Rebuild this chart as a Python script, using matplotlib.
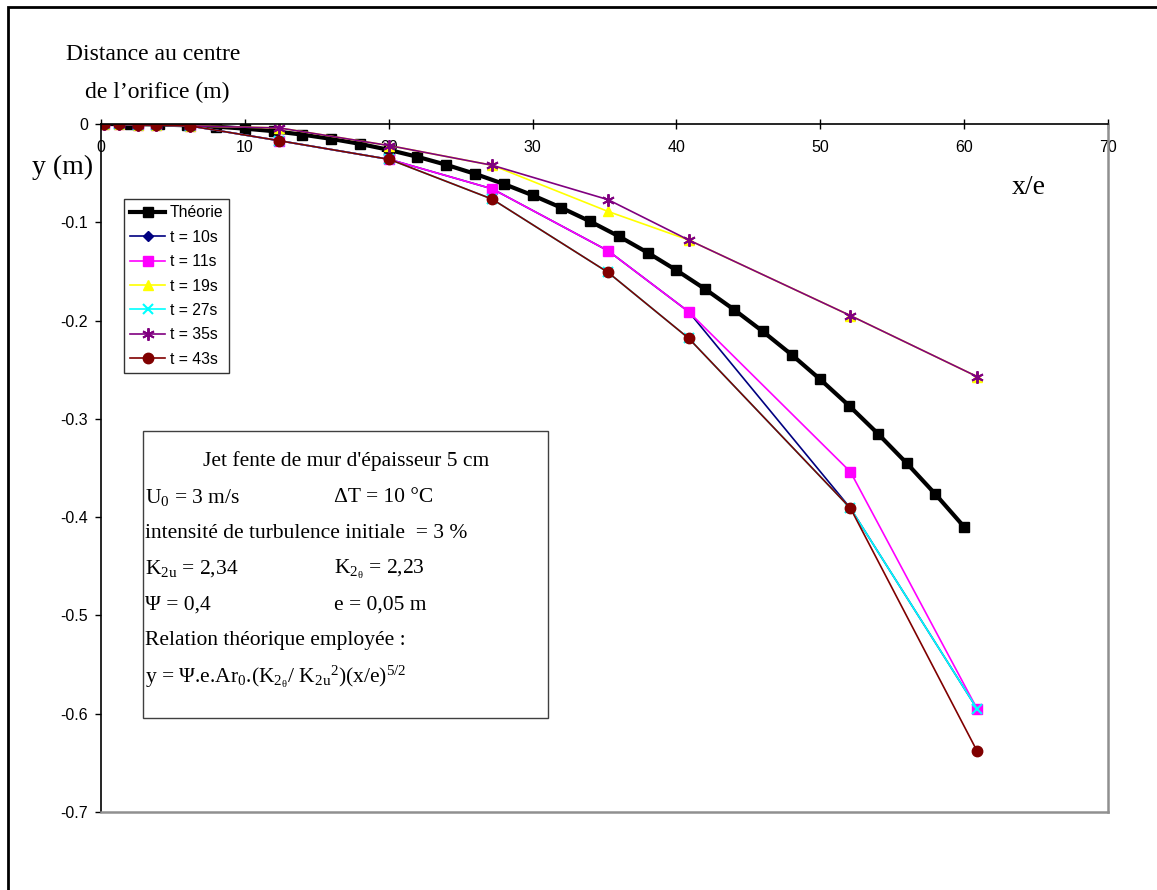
import matplotlib
matplotlib.use('Agg')
import matplotlib.pyplot as plt
from matplotlib.patches import Rectangle

plt.rcParams['font.family'] = ['Liberation Sans', 'DejaVu Sans']
plt.rcParams['mathtext.fontset'] = 'custom'
plt.rcParams['mathtext.rm'] = 'Liberation Serif'
plt.rcParams['mathtext.it'] = 'Liberation Serif:italic'
plt.rcParams['mathtext.default'] = 'regular'

# theoretical curve
theory_x = [0, 2, 4, 6, 8, 10, 12, 14, 16, 18, 20, 22, 24, 26, 28, 30,
            32, 34, 36, 38, 40, 42, 44, 46, 48, 50, 52, 54, 56, 58, 60]
theory_y = [0, -0.0001, -0.0005, -0.0013, -0.0027, -0.0047, -0.0073, -0.0108,
            -0.0151, -0.0202, -0.0263, -0.0334, -0.0415, -0.0507, -0.0610,
            -0.0725, -0.0852, -0.0991, -0.1143, -0.1309, -0.1488, -0.1680,
            -0.1888, -0.2110, -0.2346, -0.2599, -0.2866, -0.3150, -0.3450,
            -0.3766, -0.4099]

# measurements
exp_x = [0.2, 1.25, 2.55, 3.8, 6.2, 12.4, 20.05, 27.2, 35.25, 40.85, 52.1, 60.9]
t10 = [0, 0, -0.001, -0.001, -0.002, -0.017, -0.036, -0.066, -0.129, -0.191, -0.391, -0.595]
t11 = [0, 0, -0.001, -0.001, -0.002, -0.017, -0.036, -0.066, -0.129, -0.191, -0.354, -0.595]
t19 = [0, 0, -0.001, -0.001, -0.002, -0.004, -0.022, -0.042, -0.089, -0.118, -0.195, -0.257]
t27 = [0, 0, -0.001, -0.001, -0.002, -0.017, -0.036, -0.0765, -0.151, -0.218, -0.391, -0.595]
t35 = [0, 0, -0.001, -0.001, -0.002, -0.004, -0.022, -0.042, -0.077, -0.118, -0.195, -0.257]
t43 = [0, 0, -0.001, -0.001, -0.002, -0.017, -0.036, -0.0765, -0.151, -0.218, -0.391, -0.638]

W, H = 1157, 890
fig = plt.figure(figsize=(W / 100, H / 100), dpi=100)
ax = fig.add_axes([101 / W, 1 - 812 / H, (1108 - 101) / W, (812 - 124) / H])

ax.plot(theory_x, theory_y, color='black', lw=3, marker='s', ms=7.5, label='Théorie')
ax.plot(exp_x, t10, color='#000080', lw=1.2, marker='D', ms=5.5, label='t = 10s')
ax.plot(exp_x, t11, color='#FF00FF', lw=1.2, marker='s', ms=7, label='t = 11s')
ax.plot(exp_x, t19, color='#FFFF00', lw=1.2, marker='^', ms=7.5, label='t = 19s')
ax.plot(exp_x, t27, color='#00FFFF', lw=1.2, marker='x', ms=7, mew=1.5, label='t = 27s')
ax.plot(exp_x, t35, color='#800080', lw=1.2, marker=(6, 2, 0), ms=9, mew=1.4, label='t = 35s')
ax.plot(exp_x, t43, color='#800000', lw=1.2, marker='o', ms=7.5, label='t = 43s')

ax.set_xlim(0, 70)
ax.set_ylim(-0.7, 0)
ax.set_xticks(range(0, 71, 10))
ax.set_yticks([0, -0.1, -0.2, -0.3, -0.4, -0.5, -0.6, -0.7])
ax.set_yticklabels(['0', '-0.1', '-0.2', '-0.3', '-0.4', '-0.5', '-0.6', '-0.7'])

# x axis drawn at y = 0 (top), frame closed in grey
ax.spines['bottom'].set_position(('data', 0))
ax.spines['top'].set_position(('data', -0.7))
ax.spines['top'].set_color('#909090')
ax.spines['right'].set_color('#909090')
ax.spines['top'].set_linewidth(1.8)
ax.spines['right'].set_linewidth(1.8)
ax.spines['bottom'].set_linewidth(1.2)
ax.spines['left'].set_linewidth(1.2)
ax.tick_params(axis='x', direction='inout', length=7, width=1, labelsize=11.5, pad=8)
ax.tick_params(axis='y', direction='out', length=4.5, width=1, labelsize=11.5, pad=5)

leg = ax.legend(loc='upper left', bbox_to_anchor=(124 / W, 1 - 199 / H),
                bbox_transform=fig.transFigure, fontsize=11.3, frameon=True,
                fancybox=False, edgecolor='black', borderaxespad=0,
                handlelength=2.2, labelspacing=0.6, borderpad=0.4,
                handletextpad=0.3)
leg.get_frame().set_linewidth(1)

serif = ['Liberation Serif', 'DejaVu Serif']
fig.text(153 / W, 1 - 55 / H, 'Distance au centre', family=serif, fontsize=17,
         ha='center', va='center')
fig.text(157 / W, 1 - 92 / H, 'de l\u2019orifice (m)', family=serif, fontsize=17,
         ha='center', va='center')
fig.text(32 / W, 1 - 167 / H, 'y (m)', family=serif, fontsize=20, ha='left', va='center')
fig.text(1029 / W, 1 - 188 / H, 'x/e', family=serif, fontsize=20, ha='center', va='center')

# parameter box
fig.add_artist(Rectangle((143 / W, 1 - 718 / H), (548 - 143) / W, (718 - 431) / H,
                         transform=fig.transFigure, fill=False, edgecolor='#404040', lw=1))
fs = 15.5
lines_y = [461, 497, 533, 569, 605, 641, 677]
fig.text(346 / W, 1 - lines_y[0] / H, "Jet fente de mur d'épaisseur 5 cm", family=serif,
         fontsize=fs, ha='center', va='center')
left_col = ['U$_0$ = 3 m/s', '', 'K$_{2u}$ = 2,34', 'Ψ = 0,4']
right_col = ['ΔT = 10 °C', '', r'K$_{2_\theta}$ = 2,23', 'e = 0,05 m']
for i, (a, b) in enumerate(zip(left_col, right_col)):
    yy = 1 - lines_y[i + 1] / H
    if a:
        fig.text(145 / W, yy, a, family=serif, fontsize=fs, ha='left', va='center')
    if b:
        fig.text(334 / W, yy, b, family=serif, fontsize=fs, ha='left', va='center')
fig.text(145 / W, 1 - lines_y[2] / H, 'intensité de turbulence initiale  = 3 %', family=serif,
         fontsize=fs, ha='left', va='center')
fig.text(145 / W, 1 - lines_y[5] / H, 'Relation théorique employée :', family=serif,
         fontsize=fs, ha='left', va='center')
fig.text(145 / W, 1 - lines_y[6] / H,
         r'y = Ψ.e.Ar$_0$.(K$_{2_\theta}$/ K$_{2u}$$^2$)(x/e)$^{5/2}$', family=serif,
         fontsize=fs, ha='left', va='center')

# outer frame (cut by the picture edges on right and bottom)
fig.add_artist(Rectangle((8 / W, -0.1), 1.2, 1 - 7 / H + 0.1, transform=fig.transFigure,
                         fill=False, edgecolor='black', lw=2, clip_on=False))

fig.savefig('out.png', dpi=100)
